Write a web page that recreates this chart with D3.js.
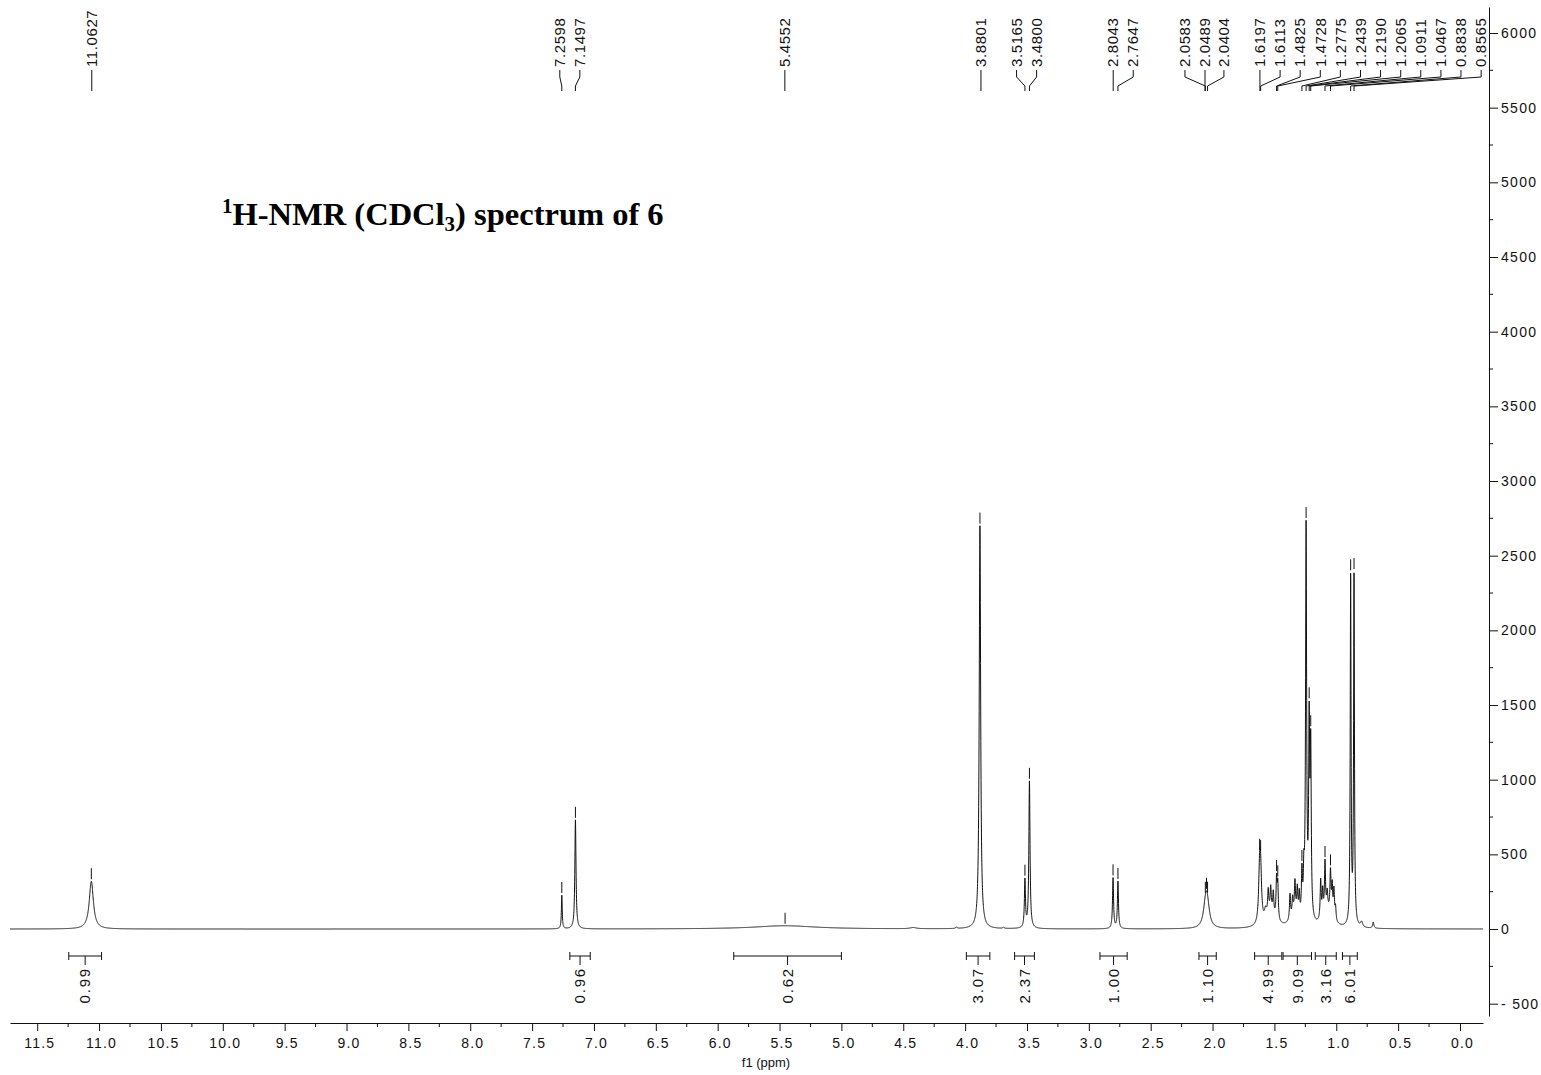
<!DOCTYPE html>
<html><head><meta charset="utf-8">
<script src="https://cdn.jsdelivr.net/npm/d3@7"></script>
<style>body{margin:0;background:#fff;} svg{display:block;}</style>
</head><body>
<svg id="chart" width="1541" height="1075"></svg>
<script>
// ---------- DATA ----------
// Lorentzian lines composing the spectrum: centre (ppm), height (intensity), half-width (ppm)
const linePpm    = [11.0627, 7.2598, 7.1497, 5.4552, 4.42, 4.07, 3.8801, 3.69, 3.5165, 3.4800,
                    2.8043, 2.7647, 2.0583, 2.0489, 2.0404,
                    1.6197, 1.6113, 1.572, 1.550, 1.530, 1.509, 1.530, 1.4825, 1.4728,
                    1.374, 1.353, 1.334, 1.315, 1.299, 1.335, 1.2775, 1.262,
                    1.2439, 1.2190, 1.2065,
                    1.126, 1.110, 1.0911, 1.073, 1.0467, 1.033, 1.019, 1.006, 1.07,
                    0.8838, 0.8565, 0.795, 0.701];
const lineHeight = [320, 225, 730, 22, 8, 10, 2700, 8, 320, 985,
                    340, 315, 95, 100, 90,
                    330, 300, 60, 150, 150, 140, 110, 260, 230,
                    170, 110, 200, 170, 150, 90, 300, 260,
                    2620, 1250, 1100,
                    260, 170, 340, 110, 280, 200, 190, 90, 110,
                    2330, 2340, 35, 40];
const lineWidth  = [0.02, 0.004, 0.0055, 0.30, 0.03, 0.006, 0.0068, 0.006, 0.005, 0.0055,
                    0.005, 0.005, 0.02, 0.02, 0.02,
                    0.009, 0.009, 0.01, 0.005, 0.005, 0.005, 0.04, 0.005, 0.005,
                    0.005, 0.005, 0.005, 0.005, 0.005, 0.035, 0.005, 0.005,
                    0.005, 0.005, 0.005,
                    0.005, 0.005, 0.005, 0.005, 0.005, 0.005, 0.005, 0.005, 0.04,
                    0.004, 0.004, 0.01, 0.006];

// picked peaks (labels at the top) and where each label sits (in ppm units)
const pickedPpm = [11.0627, 7.2598, 7.1497, 5.4552, 3.8801, 3.5165, 3.4800, 2.8043, 2.7647,
                   2.0583, 2.0489, 2.0404, 1.6197, 1.6113, 1.4825, 1.4728, 1.2775, 1.2439,
                   1.2190, 1.2065, 1.0911, 1.0467, 0.8838, 0.8565];
const labelSlotPpm = [11.059, 7.276, 7.114, 5.457, 3.872, 3.584, 3.422, 2.803, 2.641,
                      2.223, 2.061, 1.908, 1.617, 1.454, 1.292, 1.129, 0.967, 0.804,
                      0.642, 0.479, 0.317, 0.154, -0.008, -0.171];

// integrals
const integralFrom  = [11.245, 7.195, 5.87, 3.99, 3.60, 2.91, 2.11, 1.66, 1.43, 1.17, 0.95];
const integralTo    = [10.98, 7.03, 5.00, 3.80, 3.44, 2.69, 1.97, 1.44, 1.20, 1.00, 0.83];
const integralValue = ["0.99", "0.96", "0.62", "3.07", "2.37", "1.00", "1.10", "4.99", "9.09", "3.16", "6.01"];

// axes
const xMajorTicks = d3.range(0, 11.51, 0.5);
const xMinorTicks = d3.range(0.25, 11.3, 0.5);
const yMajorTicks = d3.range(-500, 6001, 500);
const yMinorTicks = d3.range(-250, 5751, 500);

// ---------- DRAWING ----------
const svg = d3.select("#chart");
const FONT = "'Liberation Sans', Arial, sans-serif";

const x = d3.scaleLinear().domain([11.72, -0.186]).range([10, 1483]);
const y = d3.scaleLinear().domain([-500, 6000]).range([1003.7, 33]);

function intensity(p) {
  let s = 0;
  for (let i = 0; i < linePpm.length; i++) {
    const d = (p - linePpm[i]) / lineWidth[i];
    s += lineHeight[i] / (1 + d * d);
  }
  return s;
}

// spectrum trace sampled from the line list
const samples = [];
for (let p = 11.72; p >= -0.186; p -= 0.0008) samples.push([p, intensity(p)]);
svg.append("path")
  .datum(samples)
  .attr("fill", "none")
  .attr("stroke", "#111")
  .attr("stroke-width", 1)
  .attr("stroke-linejoin", "round")
  .attr("d", d3.line().x(d => x(d[0])).y(d => y(d[1])));

// peak markers above picked peaks
svg.append("g").selectAll("line").data(pickedPpm).join("line")
  .attr("x1", d => x(d)).attr("x2", d => x(d))
  .attr("y1", d => y(intensity(d)) - 13)
  .attr("y2", d => y(intensity(d)) - 2)
  .attr("stroke", "#111").attr("stroke-width", 1);

// top peak labels + connectors
const lab = svg.append("g");
pickedPpm.forEach((p, i) => {
  const lx = x(labelSlotPpm[i]), px = x(p);
  let pts;
  if (Math.abs(lx - px) < 1.5) pts = [[lx, 70], [lx, 91]];
  else pts = [[lx, 70], [lx, 77], [px, 86], [px, 91]];
  lab.append("path")
    .attr("d", d3.line()(pts))
    .attr("fill", "none").attr("stroke", "#111").attr("stroke-width", 1);
  lab.append("text")
    .attr("transform", `translate(${lx},67) rotate(-90)`)
    .attr("dy", "0.35em")
    .attr("font-family", FONT).attr("font-size", 15)
    .attr("letter-spacing", 0.6)
    .attr("fill", "#111")
    .text(p.toFixed(4));
});

// integrals
const ig = svg.append("g");
integralFrom.forEach((f, i) => {
  const x1 = x(f), x2 = x(integralTo[i]), cx = (x1 + x2) / 2, by = 956;
  ig.append("line").attr("x1", x1).attr("x2", x2).attr("y1", by).attr("y2", by)
    .attr("stroke", "#111").attr("stroke-width", 1);
  [x1, x2].forEach(ex => ig.append("line").attr("x1", ex).attr("x2", ex)
    .attr("y1", by - 4).attr("y2", by + 4).attr("stroke", "#111").attr("stroke-width", 1));
  ig.append("line").attr("x1", cx).attr("x2", cx).attr("y1", by).attr("y2", by + 9)
    .attr("stroke", "#111").attr("stroke-width", 1);
  ig.append("text")
    .attr("transform", `translate(${cx},967) rotate(-90)`)
    .attr("dy", "0.35em")
    .attr("text-anchor", "end")
    .attr("font-family", FONT).attr("font-size", 15)
    .attr("letter-spacing", 1.8)
    .attr("fill", "#111")
    .text(integralValue[i]);
});

// bottom axis
const xAxisY = 1023;
const xg = svg.append("g").attr("transform", `translate(0,${xAxisY})`);
xg.call(d3.axisBottom(x).tickValues(xMajorTicks).tickSize(8).tickSizeOuter(0)
  .tickFormat(d3.format(".1f")));
xg.select(".domain").attr("stroke", "#111");
xg.selectAll(".tick line").attr("stroke", "#111");
xg.selectAll(".tick text").attr("font-family", FONT).attr("font-size", 14)
  .attr("letter-spacing", 1.2).attr("fill", "#111").attr("dx", 2).attr("y", 15);
xg.selectAll(".minor").data(xMinorTicks).join("line").attr("class", "minor")
  .attr("x1", d => x(d)).attr("x2", d => x(d)).attr("y1", 0).attr("y2", 4)
  .attr("stroke", "#111");
svg.append("text").attr("x", 766).attr("y", 1067).attr("text-anchor", "middle")
  .attr("font-family", FONT).attr("font-size", 13).attr("fill", "#111").text("f1 (ppm)");

// right axis
const yAxisScale = y.copy().domain([y.invert(1016), y.invert(7)]).range([1016, 7]);
const yg = svg.append("g").attr("transform", "translate(1489,0)");
yg.call(d3.axisRight(yAxisScale).tickValues(yMajorTicks).tickSize(9).tickSizeOuter(0)
  .tickFormat(d => d < 0 ? "- " + Math.abs(d) : String(d)));
yg.select(".domain").attr("stroke", "#111");
yg.selectAll(".tick line").attr("stroke", "#111");
yg.selectAll(".tick text").attr("font-family", FONT).attr("font-size", 14)
  .attr("letter-spacing", 1.3).attr("fill", "#111").attr("x", 12);
yg.selectAll(".minor").data(yMinorTicks).join("line").attr("class", "minor")
  .attr("x1", 0).attr("x2", 4).attr("y1", d => y(d)).attr("y2", d => y(d))
  .attr("stroke", "#111");

// title
const t = svg.append("text").attr("x", 222).attr("y", 225)
  .attr("font-family", "'Liberation Serif', 'Times New Roman', serif")
  .attr("font-weight", "bold").attr("font-size", 32.5).attr("fill", "#000");
t.append("tspan").attr("font-size", 21).attr("dy", -12).text("1");
t.append("tspan").attr("dy", 12).text("H-NMR (CDCl");
t.append("tspan").attr("font-size", 21).attr("dy", 6).text("3");
t.append("tspan").attr("dy", -6).text(") spectrum of 6");
</script>
</body></html>
